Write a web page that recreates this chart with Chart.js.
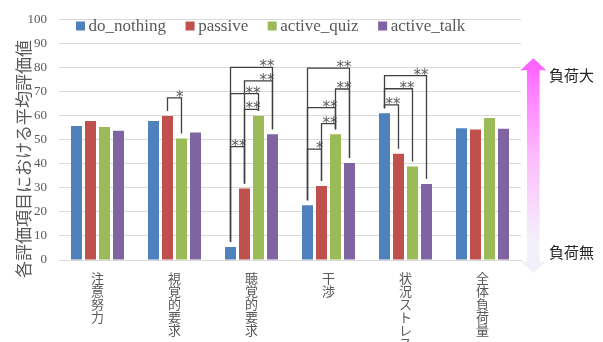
<!DOCTYPE html>
<html>
<head>
<meta charset="utf-8">
<script src="https://cdn.jsdelivr.net/npm/chart.js@4.4.1/dist/chart.umd.min.js"></script>
<style>
  body { margin: 0; background: #fff; }
</style>
</head>
<body>
<canvas id="loadChart" width="603" height="342"></canvas>
<script>
// 評価項目と条件
var categories = ['注意努力', '視覚的要求', '聴覚的要求', '干渉', '状況ストレス', '全体負荷量'];
var seriesNames = ['do_nothing', 'passive', 'active_quiz', 'active_talk'];
var seriesColors = ['#4f81bd', '#c0504d', '#9bbb59', '#8064a2'];

// 各条件の平均評価値
var doNothing  = [55.8, 57.9, 5.4, 22.8, 61.1, 54.9];
var passive    = [57.9, 60.0, 29.8, 30.8, 44.2, 54.3];
var activeQuiz = [55.4, 50.6, 60.0, 52.4, 38.9, 59.1];
var activeTalk = [53.8, 53.1, 52.4, 40.4, 31.6, 54.6];

var yMin = 0, yMax = 100, yStep = 10;
var yTitle = '各評価項目における平均評価値';
var loadHigh = '負荷大';
var loadNone = '負荷無';

// 有意差の括弧: 項目, 条件A, 条件B, 括弧の高さ, 記号
var sigCategory = [1, 2, 2, 2, 2, 2, 3, 3, 3, 3, 3, 4, 4, 4];
var sigFrom     = [1, 0, 1, 0, 1, 0, 0, 1, 0, 2, 0, 0, 0, 0];
var sigTo       = [2, 1, 2, 2, 3, 3, 1, 2, 2, 3, 3, 1, 2, 3];
var sigHeight   = [67.5, 47.2, 62.7, 69.3, 74.6, 80.2, 46.2, 56.8, 63.4, 71.2, 79.9, 64.6, 71.3, 76.8];
var sigMark     = ['*', '**', '**', '**', '**', '**', '*', '**', '**', '**', '**', '**', '**', '**'];

var seriesValues = [doNothing, passive, activeQuiz, activeTalk];

var datasets = seriesNames.map(function (name, i) {
    return {
        label: name,
        data: seriesValues[i],
        backgroundColor: seriesColors[i],
        barPercentage: 0.786,
        categoryPercentage: 0.727
    };
});

// 有意差の括弧と記号
var sigPlugin = {
    id: 'sigBrackets',
    afterDatasetsDraw: function (chart) {
        var ctx = chart.ctx;
        var y = chart.scales.y;
        ctx.save();
        for (var i = 0; i < sigMark.length; i++) {
            var a = chart.getDatasetMeta(sigFrom[i]).data[sigCategory[i]];
            var b = chart.getDatasetMeta(sigTo[i]).data[sigCategory[i]];
            var top = y.getPixelForValue(sigHeight[i]);
            ctx.beginPath();
            ctx.moveTo(a.x, a.y - 5);
            ctx.lineTo(a.x, top);
            ctx.lineTo(b.x, top);
            ctx.lineTo(b.x, b.y - 5);
            ctx.strokeStyle = '#404040';
            ctx.lineWidth = 1.3;
            ctx.stroke();

            ctx.font = '15px "DejaVu Sans"';
            ctx.fillStyle = '#595959';
            ctx.textAlign = 'right';
            ctx.textBaseline = 'alphabetic';
            ctx.fillText(sigMark[i], b.x + 2, top + 4);
        }
        ctx.restore();
    }
};

// 凡例・縦軸タイトル・負荷の矢印
var decorPlugin = {
    id: 'decor',
    afterDraw: function (chart) {
        var ctx = chart.ctx;
        var area = chart.chartArea;
        var y = chart.scales.y;
        ctx.save();

        // 縦軸タイトル
        ctx.translate(23.5, area.bottom + 18);
        ctx.rotate(-Math.PI / 2);
        ctx.font = '17px "Noto Sans CJK JP"';
        ctx.fillStyle = '#595959';
        ctx.textAlign = 'left';
        ctx.textBaseline = 'middle';
        ctx.fillText(yTitle, 0, 0);
        ctx.restore();

        // 凡例（グラフ内の上部）
        ctx.save();
        var x = area.left + 17;
        var base = area.top + 11.3;
        ctx.font = '17px "Liberation Serif"';
        ctx.textBaseline = 'alphabetic';
        ctx.textAlign = 'left';
        chart.data.datasets.forEach(function (ds) {
            ctx.fillStyle = ds.backgroundColor;
            ctx.fillRect(x, area.top + 1.7, 9, 9);
            ctx.fillStyle = '#595959';
            ctx.fillText(ds.label, x + 12.6, base);
            x += 12.6 + ctx.measureText(ds.label).width + 19.5;
        });
        ctx.restore();

        // 負荷の矢印
        ctx.save();
        var cx = area.right + 12.3;
        var tip = y.getPixelForValue(84);
        var headBase = y.getPixelForValue(79);
        var tailEnd = y.getPixelForValue(-0.6);
        var tailTip = y.getPixelForValue(-5.4);
        var grad = ctx.createLinearGradient(0, tip, 0, tailTip);
        grad.addColorStop(0, '#ff5cff');
        grad.addColorStop(0.15, '#ff80ff');
        grad.addColorStop(0.5, '#fcc2fc');
        grad.addColorStop(0.85, '#f4f0fa');
        grad.addColorStop(1, '#eff1f8');
        ctx.beginPath();
        ctx.moveTo(cx, tip);
        ctx.lineTo(cx + 13, headBase);
        ctx.lineTo(cx + 6.3, headBase);
        ctx.lineTo(cx + 6.3, tailEnd);
        ctx.lineTo(cx + 12.5, tailEnd);
        ctx.lineTo(cx, tailTip);
        ctx.lineTo(cx - 12.5, tailEnd);
        ctx.lineTo(cx - 6.3, tailEnd);
        ctx.lineTo(cx - 6.3, headBase);
        ctx.lineTo(cx - 13, headBase);
        ctx.closePath();
        ctx.fillStyle = grad;
        ctx.fill();

        ctx.font = '15px "Noto Sans CJK JP"';
        ctx.fillStyle = '#262626';
        ctx.textAlign = 'left';
        ctx.textBaseline = 'middle';
        ctx.fillText(loadHigh, area.right + 28, y.getPixelForValue(76.8));
        ctx.fillText(loadNone, area.right + 28, y.getPixelForValue(3.1));
        ctx.restore();
    }
};

new Chart(document.getElementById('loadChart'), {
    type: 'bar',
    data: {
        labels: categories,
        datasets: datasets
    },
    options: {
        responsive: false,
        animation: false,
        devicePixelRatio: 1,
        layout: {
            padding: { top: 18, right: 82, left: 0, bottom: 0 }
        },
        scales: {
            x: {
                grid: { display: false, drawTicks: false },
                border: { color: '#d9d9d9' },
                ticks: {
                    autoSkip: false,
                    maxRotation: 0,
                    minRotation: 0,
                    padding: 11.5,
                    color: '#595959',
                    font: { family: '"Noto Sans CJK JP"', size: 13, lineHeight: 1 },
                    // 縦書き風に1文字ずつ改行
                    callback: function (value) {
                        return this.getLabelForValue(value).split('');
                    }
                },
                afterFit: function (scale) {
                    scale.height = 82;
                }
            },
            y: {
                min: yMin,
                max: yMax,
                grid: { color: '#d9d9d9', drawTicks: false },
                border: { display: false },
                ticks: {
                    stepSize: yStep,
                    padding: 12,
                    color: '#595959',
                    font: { family: '"Liberation Serif"', size: 13 }
                },
                afterFit: function (scale) {
                    scale.width = 59;
                }
            }
        },
        plugins: {
            legend: { display: false },
            tooltip: { enabled: false }
        }
    },
    plugins: [sigPlugin, decorPlugin]
});
</script>
</body>
</html>
